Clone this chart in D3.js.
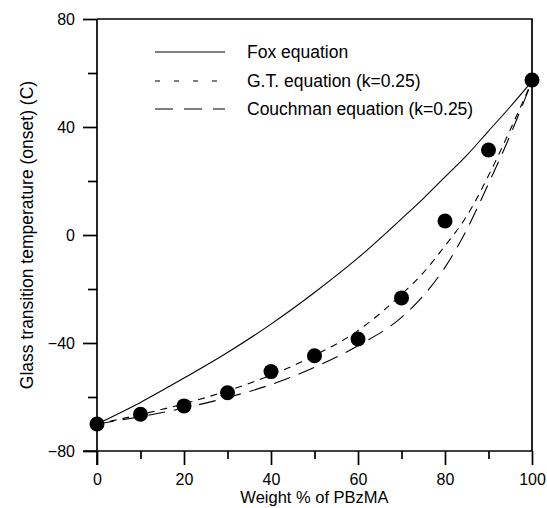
<!DOCTYPE html>
<html>
<head>
<meta charset="utf-8">
<script src="https://cdn.jsdelivr.net/npm/d3@7"></script>
<style>
  body { margin: 0; background: #fff; }
  svg { display: block; font-family: "Liberation Sans", Arial, sans-serif; }
  .axis path, .axis line, .frame { stroke: #000; stroke-width: 1.7; }
  .axis text { font-size: 16px; fill: #000; }
</style>
</head>
<body>
<svg></svg>
<script>
// weight % of PBzMA
var weights = [0, 10, 20, 30, 40, 50, 60, 70, 80, 90, 100];
var measured = [-70, -66.4, -63.3, -58.4, -50.6, -44.7, -38.5, -23.3, 5.2, 31.5, 57.4];

// curves
var curveW = [0, 10, 20, 30, 40, 50, 60, 70, 75, 80, 85, 90, 95, 100];
var foxT = [-70, -62, -53, -43.5, -33, -21.3, -8.5, 6, 13.5, 21.5, 29.5, 38.5, 47.5, 57];
var gtT = [-70, -66.5, -62.5, -57.7, -51.9, -44.6, -35.4, -22, -14, -4, 7, 22, 39, 57];
var couchT = [-70, -67.3, -64.1, -60.2, -55.4, -49, -41, -30.5, -22.5, -12, 2, 19, 37, 57];

var legendNames = ['Fox equation', 'G.T. equation (k=0.25)', 'Couchman equation (k=0.25)'];
var xTicks = [0, 20, 40, 60, 80, 100];
var xMinor = [10, 30, 50, 70, 90];
var yTicks = [-80, -40, 0, 40, 80];
var yMinor = [-60, -20, 20, 60];

var width = 547, height = 508;
var svg = d3.select('svg').attr('width', width).attr('height', height);

var x = d3.scaleLinear().domain([0, 100]).range([97, 532]);
var y = d3.scaleLinear().domain([-80, 80]).range([451, 19]);

// minor ticks first so major ones draw on top
svg.append('g').attr('class', 'axis')
   .attr('transform', 'translate(0,' + y(-80) + ')')
   .call(d3.axisBottom(x).tickValues(xMinor).tickSize(8).tickSizeOuter(0).tickFormat(''))
   .select('.domain').remove();
svg.append('g').attr('class', 'axis')
   .attr('transform', 'translate(' + x(0) + ',0)')
   .call(d3.axisLeft(y).tickValues(yMinor).tickSize(9).tickSizeOuter(0).tickFormat(''))
   .select('.domain').remove();

var xAxis = svg.append('g').attr('class', 'axis')
   .attr('transform', 'translate(0,' + y(-80) + ')')
   .call(d3.axisBottom(x).tickValues(xTicks).tickSize(14).tickSizeOuter(0).tickPadding(9));
xAxis.select('.domain').attr('d', 'M' + (x(0) - 14) + ',0H' + x(100));

var yAxis = svg.append('g').attr('class', 'axis')
   .attr('transform', 'translate(' + x(0) + ',0)')
   .call(d3.axisLeft(y).tickValues(yTicks).tickSize(14).tickSizeOuter(0).tickPadding(8));
yAxis.select('.domain').attr('d', 'M0,' + y(80) + 'V' + (y(-80) + 14));

// top and right border
svg.append('path').attr('class', 'frame').attr('fill', 'none')
   .attr('d', 'M' + x(0) + ',' + y(80) + 'H' + x(100) + 'V' + y(-80));

var line = d3.line()
   .x(function(d) { return x(d[0]); })
   .y(function(d) { return y(d[1]); })
   .curve(d3.curveMonotoneX);

var series = [
  { vals: foxT, dash: null, leg: null },
  { vals: gtT, dash: '7,6', leg: '5,14' },
  { vals: couchT, dash: '17,9', leg: '18,11' }
];

series.forEach(function(s) {
  svg.append('path')
     .datum(curveW.map(function(w, i) { return [w, s.vals[i]]; }))
     .attr('fill', 'none')
     .attr('stroke', '#000')
     .attr('stroke-width', 1.1)
     .attr('stroke-dasharray', s.dash)
     .attr('d', line);
});

svg.selectAll('circle.pt')
   .data(weights)
   .enter()
   .append('circle')
   .attr('class', 'pt')
   .attr('cx', function(d) { return x(d); })
   .attr('cy', function(d, i) { return y(measured[i]); })
   .attr('r', 7.5)
   .attr('fill', '#000');

// legend
var legY = [52, 81, 109];
var legend = svg.append('g');
series.forEach(function(s, i) {
  legend.append('line')
     .attr('x1', 155).attr('x2', 225)
     .attr('y1', legY[i]).attr('y2', legY[i])
     .attr('stroke', '#000').attr('stroke-width', 1.1)
     .attr('stroke-dasharray', s.leg);
  legend.append('text')
     .attr('x', 247).attr('y', legY[i])
     .attr('dy', '0.35em')
     .style('font-size', '17.5px')
     .text(legendNames[i]);
});

// axis titles
svg.append('text')
   .attr('x', (x(0) + x(100)) / 2)
   .attr('y', 503)
   .attr('text-anchor', 'middle')
   .style('font-size', '16.5px')
   .text('Weight % of PBzMA');

svg.append('text')
   .attr('transform', 'translate(33,' + (y(0)) + ') rotate(-90)')
   .attr('text-anchor', 'middle')
   .style('font-size', '17.5px')
   .text('Glass transition temperature (onset) (C)');
</script>
</body>
</html>
